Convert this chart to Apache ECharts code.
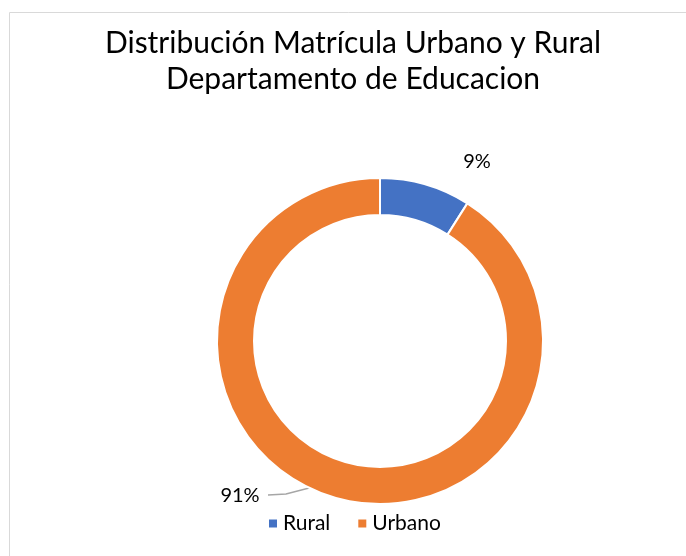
<!DOCTYPE html>
<html>
<head>
<meta charset="utf-8">
<script src="https://cdn.jsdelivr.net/npm/echarts@6/dist/echarts.min.js"></script>
<style>
  html, body { margin: 0; padding: 0; background: #fff; }
  #chart { width: 686px; height: 556px; }
</style>
</head>
<body>
<div id="chart"></div>
<script>
// data of the chart
const categories = ["Rural", "Urbano"];
const values = [9, 91];
const colors = ["#4472C4", "#ED7D31"];
const titleText = "Distribución Matrícula Urbano y Rural\nDepartamento de Educacion";

let chart = echarts.init(document.getElementById("chart"));

let pieData = categories.map((name, i) => ({
  name: name,
  value: values[i],
  itemStyle: { color: colors[i] },
  labelLine: { show: i === 1 },
}));

let option = {
  animation: false,
  textStyle: { fontFamily: "Lato" },
  title: {
    text: titleText,
    left: 348,
    top: 20,
    textAlign: "center",
    textStyle: {
      fontFamily: "Lato",
      fontSize: 30,
      fontWeight: "normal",
      color: "#000",
      lineHeight: 36,
    },
  },
  graphic: [
    {
      type: "rect",
      shape: { x: 9.5, y: 12.5, width: 700, height: 600 },
      style: { fill: "none", stroke: "#d9d9d9", lineWidth: 1 },
      z: -1,
    },
  ],
  legend: {
    data: categories,
    bottom: 17,
    left: 262,
    icon: "rect",
    itemWidth: 10,
    itemHeight: 10,
    itemGap: 26,
    textStyle: { fontFamily: "Lato", fontSize: 21, color: "#000" },
  },
  series: [
    {
      name: "Matrícula",
      type: "pie",
      center: [380, 341],
      radius: [126, 163],
      startAngle: 90,
      clockwise: true,
      itemStyle: { borderColor: "#fff", borderWidth: 2 },
      label: {
        show: true,
        position: "outside",
        formatter: (p) => Math.round(p.percent) + "%",
        fontFamily: "Lato",
        fontSize: 20,
        color: "#000",
      },
      labelLine: { show: true, lineStyle: { color: "#a6a6a6", width: 1.5 } },
      labelLayout: (p) => {
        if (p.dataIndex === 0) {
          return { x: 477, y: 162, align: "center", verticalAlign: "middle" };
        }
        return {
          x: 240,
          y: 496,
          align: "center",
          verticalAlign: "middle",
          labelLinePoints: [[340, 480], [286, 494], [268, 495]],
        };
      },
      data: pieData,
    },
  ],
};

chart.setOption(option);
</script>
</body>
</html>
